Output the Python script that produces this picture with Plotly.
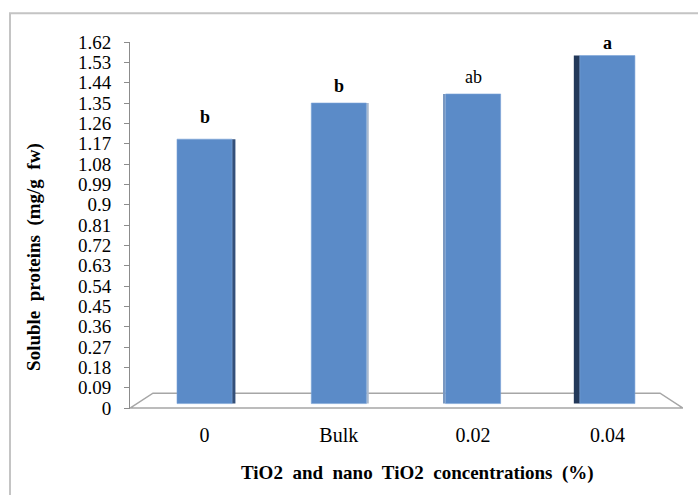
import plotly.graph_objects as go

# Soluble protein content for each TiO2 treatment
categories = ["0", "Bulk", "0.02", "0.04"]
protein = [1.19, 1.35, 1.39, 1.56]
letters = ["b", "b", "ab", "a"]
letter_bold = [True, True, False, True]
tick_labels = ["0", "0.09", "0.18", "0.27", "0.36", "0.45", "0.54", "0.63", "0.72",
               "0.81", "0.9", "0.99", "1.08", "1.17", "1.26", "1.35", "1.44", "1.53", "1.62"]
tick_vals = [float(t) for t in tick_labels]

FLOOR = 0.02          # bars stand slightly inside the 3-D floor
BAR_W = 0.41
FONT = "Liberation Serif, Times New Roman, serif"
letter_gap = [10, 5, 5, 1]   # pixel gap between column top and its letter

xpos = list(range(len(categories)))
heights = [v - FLOOR for v in protein]

fig = go.Figure()

# side faces of the pseudo-3D columns
side_offset = [BAR_W / 2, BAR_W / 2, -BAR_W / 2 - 0.012, -BAR_W / 2 - 0.045]
side_width = [0.025, 0.018, 0.012, 0.045]
side_color = ["#34507A", "#A9B9CE", "#7A98C0", "#23395A"]
fig.add_trace(go.Bar(
    x=xpos, y=heights, base=FLOOR,
    offset=side_offset, width=side_width,
    marker=dict(color=side_color, line=dict(width=0)),
    hoverinfo="skip", showlegend=False,
))

# front faces
fig.add_trace(go.Bar(
    x=xpos, y=heights, base=FLOOR,
    offset=-BAR_W / 2, width=BAR_W,
    marker=dict(color="#5B8BC8", line=dict(color="#7AA3D6", width=0.6)),
    customdata=protein,
    hovertemplate="%{customdata}<extra></extra>",
    showlegend=False,
))

# significance letters
for x, v, t, b, g in zip(xpos, protein, letters, letter_bold, letter_gap):
    fig.add_annotation(
        x=x, y=v, xref="x", yref="y", text=f"<b>{t}</b>" if b else t,
        showarrow=False, yanchor="bottom", yshift=g,
        font=dict(family=FONT, size=18, color="black"),
    )

# floor of the 3-D plot area
fig.add_shape(
    type="path", xref="x", yref="y", layer="below",
    path="M -0.555,0 L -0.384,0.066 L 3.392,0.066 L 3.563,0 Z",
    line=dict(color="#A6A6A6", width=1.5),
)

# chart frame
fig.add_shape(
    type="rect", xref="paper", yref="paper",
    x0=-0.217, x1=1.1, y0=-0.4, y1=1.078,
    line=dict(color="#C4C4C4", width=2), layer="below",
)

fig.add_annotation(
    x=-0.175, y=0.415, xref="paper", yref="paper",
    xanchor="center", yanchor="middle",
    text="<b>Soluble  proteins  (mg/g  fw)</b>", textangle=-90, showarrow=False,
    font=dict(family=FONT, size=19, color="black"),
)
fig.add_annotation(
    x=0.52, y=-0.175, xref="paper", yref="paper",
    xanchor="center", yanchor="middle",
    text="<b>TiO2  and  nano  TiO2  concentrations  (%)</b>", showarrow=False,
    font=dict(family=FONT, size=19, color="black"),
)

fig.update_layout(
    width=698, height=495,
    margin=dict(l=130, r=15, t=42, b=86),
    plot_bgcolor="white", paper_bgcolor="white",
    barmode="overlay",
    xaxis=dict(
        range=[-0.555, 3.563], tickvals=xpos, ticktext=categories,
        showline=False, showgrid=False, zeroline=False, ticks="",
        tickfont=dict(family=FONT, size=20, color="black"),
        ticklabelstandoff=12,
    ),
    yaxis=dict(
        range=[-0.004, 1.62], tickvals=tick_vals, ticktext=tick_labels,
        showline=True, linecolor="#8C8C8C", linewidth=1,
        ticks="outside", ticklen=5, tickcolor="#8C8C8C",
        showgrid=False, zeroline=False, ticklabelstandoff=9,
        tickfont=dict(family=FONT, size=19, color="black"),
    ),
)

fig.write_html("out.html")
